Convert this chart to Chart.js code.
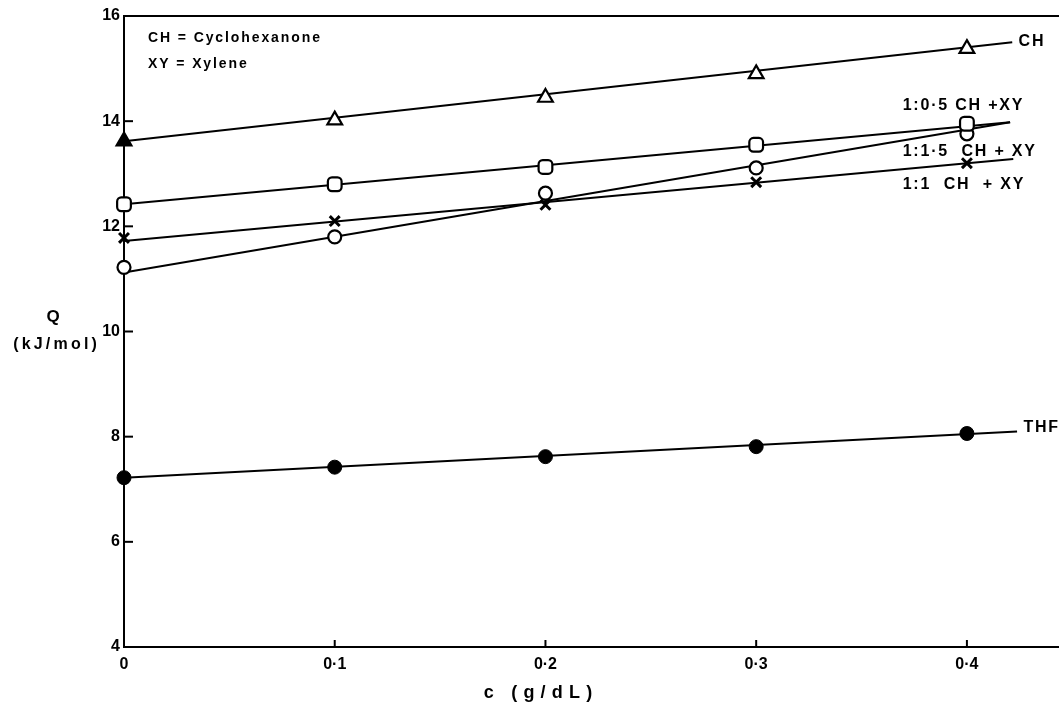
<!DOCTYPE html>
<html>
<head>
<meta charset="utf-8">
<script src="https://cdn.jsdelivr.net/npm/chart.js@4/dist/chart.umd.min.js"></script>
<style>
html,body{margin:0;padding:0;background:#fff;}
canvas{display:block;}
</style>
</head>
<body>
<canvas id="c" width="1059" height="709"></canvas>
<script>
// ---- data ----
const concentrations = [0, 0.1, 0.2, 0.3, 0.4];          // c (g/dL)
const chPoints   = [13.62, 14.02, 14.45, 14.90, 15.38];   // CH (triangles)
const ch05Points = [12.42, 12.80, 13.13, 13.55, 13.95];   // 1:0.5 CH+XY (squares)
const ch15Points = [11.22, 11.80, 12.63, 13.11, 13.76];   // 1:1.5 CH+XY (open circles)
const ch1Points  = [11.78, 12.10, 12.41, 12.84, 13.20];   // 1:1 CH+XY (crosses)
const thfPoints  = [7.22, 7.42, 7.62, 7.81, 8.06];        // THF (filled circles)

// fitted straight lines: [start, end]
const chFitX   = [0, 0.4215]; const chFit   = [13.62, 15.50];
const ch05FitX = [0, 0.4205]; const ch05Fit = [12.42, 13.98];
const ch15FitX = [0, 0.4205]; const ch15Fit = [11.12, 13.98];
const ch1FitX  = [0, 0.422];  const ch1Fit  = [11.72, 13.28];
const thfFitX  = [0, 0.4238]; const thfFit  = [7.22, 8.10];

const xTicks = [0, 0.1, 0.2, 0.3, 0.4];
const xTickLabels = ['0', '0·1', '0·2', '0·3', '0·4'];
const yTicks = [4, 6, 8, 10, 12, 14, 16];
const yTickLabels = ['4', '6', '8', '10', '12', '14', '16'];

// series labels placed in data units: [text, x, y]
const seriesLabels = [
  ['CH', 0.4245, 15.52],
  ['1:0·5 CH +XY', 0.3695, 14.30],
  ['1:1·5  CH + XY', 0.3695, 13.43],
  ['1:1  CH  + XY', 0.3695, 12.80],
  ['THF', 0.4268, 8.17]
];
const keyLines = ['CH = Cyclohexanone', 'XY = Xylene'];
const xTitle = 'c (g/dL)';
const yTitleLines = ['Q', '(kJ/mol)'];

// ---- helpers ----
const FONT = '"Liberation Sans", Arial, sans-serif';
function textWidth(ctx, text, spacing) {
  let w = 0;
  for (const ch of text) w += ctx.measureText(ch).width + spacing;
  return w - spacing;
}
function drawSpaced(ctx, text, x, y, spacing, align) {
  const w = textWidth(ctx, text, spacing);
  let cx = align === 'center' ? x - w / 2 : (align === 'right' ? x - w : x);
  ctx.textAlign = 'left';
  for (const ch of text) {
    ctx.fillText(ch, cx, y);
    cx += ctx.measureText(ch).width + spacing;
  }
}
const pts = (xs, ys) => xs.map((x, i) => ({x: x, y: ys[i]}));

function fitSet(xs, ys) {
  return {type: 'line', data: pts(xs, ys), borderColor: '#000', borderWidth: 2,
          pointRadius: 0, fill: false, clip: false, order: 2};
}
function markerSet(ys, style, radius, bg, bw) {
  return {type: 'scatter', data: pts(concentrations, ys), showLine: false,
          pointStyle: style, pointRadius: radius, pointBackgroundColor: bg,
          pointBorderColor: '#000', pointBorderWidth: bw, clip: false, order: 1};
}

const decor = {
  id: 'decor',
  afterDraw(chart) {
    const ctx = chart.ctx;
    const a = chart.chartArea;
    const xs = chart.scales.x, ys = chart.scales.y;
    ctx.save();
    ctx.strokeStyle = '#000';
    ctx.fillStyle = '#000';
    // top frame line
    ctx.lineWidth = 2;
    ctx.beginPath();
    ctx.moveTo(a.left, a.top); ctx.lineTo(a.right, a.top);
    ctx.stroke();
    // inward ticks
    yTicks.forEach(v => {
      if (v === 4 || v === 16) return;
      const py = ys.getPixelForValue(v);
      ctx.beginPath(); ctx.moveTo(a.left, py); ctx.lineTo(a.left + 9, py); ctx.stroke();
    });
    xTicks.forEach(v => {
      if (v === 0) return;
      const px = xs.getPixelForValue(v);
      ctx.beginPath(); ctx.moveTo(px, a.bottom); ctx.lineTo(px, a.bottom - 7); ctx.stroke();
    });
    ctx.textBaseline = 'middle';
    // key text
    ctx.font = 'bold 14px ' + FONT;
    drawSpaced(ctx, keyLines[0], a.left + 24, a.top + 22, 1.9, 'left');
    drawSpaced(ctx, keyLines[1], a.left + 24, a.top + 48, 1.9, 'left');
    // series labels
    ctx.font = 'bold 16px ' + FONT;
    seriesLabels.forEach(s => {
      drawSpaced(ctx, s[0], xs.getPixelForValue(s[1]), ys.getPixelForValue(s[2]), 1.8, 'left');
    });
    // axis titles
    ctx.font = 'bold 17px ' + FONT;
    drawSpaced(ctx, yTitleLines[0], 53, 317, 0, 'center');
    ctx.font = 'bold 16px ' + FONT;
    drawSpaced(ctx, yTitleLines[1], 55, 345, 3.2, 'center');
    ctx.font = 'bold 18px ' + FONT;
    drawSpaced(ctx, xTitle, 538, 693, 6.2, 'center');
    ctx.restore();
  }
};

new Chart(document.getElementById('c'), {
  type: 'scatter',
  data: {
    datasets: [
      fitSet(chFitX, chFit),
      fitSet(ch05FitX, ch05Fit),
      fitSet(ch15FitX, ch15Fit),
      fitSet(ch1FitX, ch1Fit),
      fitSet(thfFitX, thfFit),
      markerSet(chPoints, 'triangle', 8.5, c => c.dataIndex === 0 ? '#000' : '#fff', 2.2),
      markerSet(ch05Points, 'rectRounded', 8, '#fff', 2.2),
      markerSet(ch15Points, 'circle', 6.5, '#fff', 2.2),
      markerSet(ch1Points, 'crossRot', 7, '#000', 3),
      markerSet(thfPoints, 'circle', 7, '#000', 1)
    ]
  },
  options: {
    responsive: false,
    animation: false,
    events: [],
    layout: {autoPadding: false, padding: {top: 16, right: 0, left: 0, bottom: 0}},
    plugins: {legend: {display: false}, tooltip: {enabled: false}, title: {display: false}},
    scales: {
      x: {
        type: 'linear', min: 0, max: 0.4437,
        afterBuildTicks: s => { s.ticks = xTicks.map(v => ({value: v})); },
        afterFit: s => { s.height = 62; },
        grid: {display: true, drawOnChartArea: false, drawTicks: false},
        border: {display: true, color: '#000', width: 2},
        ticks: {
          color: '#000', padding: 8, maxRotation: 0, autoSkip: false,
          font: {family: FONT, size: 16, weight: 'bold'},
          callback: (v, i) => xTickLabels[i]
        }
      },
      y: {
        type: 'linear', min: 4, max: 16,
        afterBuildTicks: s => { s.ticks = yTicks.map(v => ({value: v})); },
        afterFit: s => { s.width = 124; },
        grid: {display: true, drawOnChartArea: false, drawTicks: false},
        border: {display: true, color: '#000', width: 2},
        ticks: {
          color: '#000', padding: 4, autoSkip: false,
          font: {family: FONT, size: 16, weight: 'bold'},
          callback: (v, i) => yTickLabels[i]
        }
      }
    }
  },
  plugins: [decor]
});
</script>
</body>
</html>
